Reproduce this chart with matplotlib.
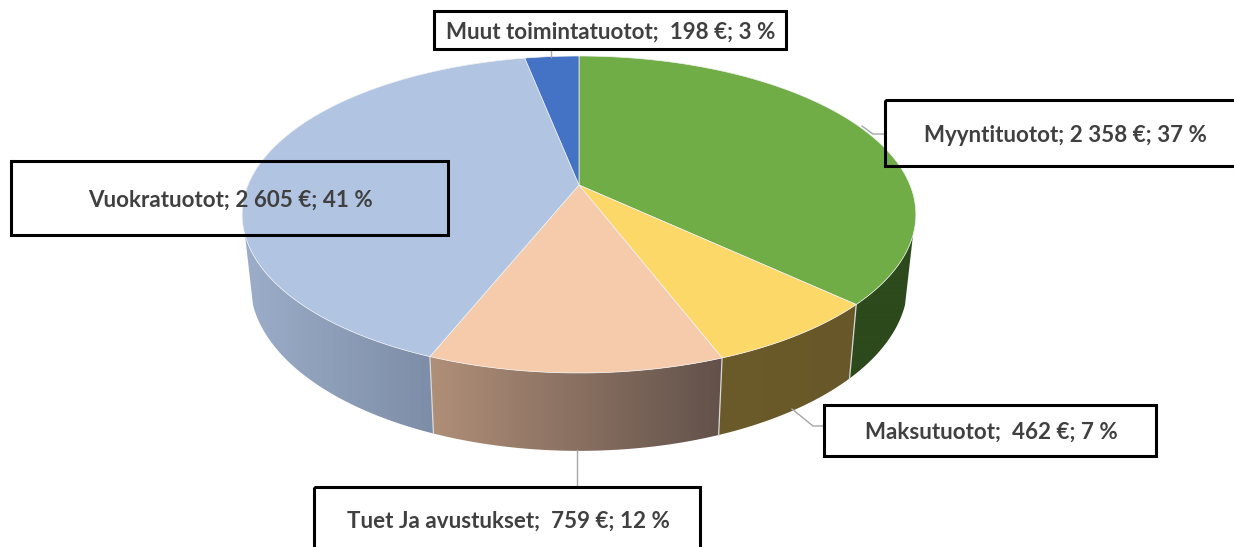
import numpy as np
import matplotlib
matplotlib.use('Agg')
import matplotlib.pyplot as plt
from matplotlib.colors import LinearSegmentedColormap
from matplotlib.patches import Polygon, Rectangle

# Data
categories = ['Myyntituotot', 'Maksutuotot', 'Tuet Ja avustukset', 'Vuokratuotot', 'Muut toimintatuotot']
values = [2358, 462, 759, 2605, 198]
value_texts = ['2 358 €', ' 462 €', ' 759 €', '2 605 €', ' 198 €']
percents = [37, 7, 12, 41, 3]

# Colours
top_colors = ['#70ad47', '#fcd868', '#f5cbac', '#b1c5e3', '#4472c4']
wall_left = ['#2c4a1c', '#6b5b2a', '#b08f78', '#9cadc9', '#4472c4']
wall_right = ['#2c4a1c', '#685829', '#62514a', '#7d8da7', '#4472c4']

# Layout in pixels: box x0, y0, x1, y1 and leader line
boxes = [(885, 100, 1240, 166), (824, 405, 1156, 456), (314, 487, 700, 555),
         (11, 161, 448, 235), (434, 11, 786, 49)]
text_pos = [(1065, 135), (991, 432), (508, 521), (230, 200), (611, 32)]
leaders = [([862, 873, 885], [126, 134, 134]), ([792, 813, 824], [409, 426, 426]),
           ([577, 577], [450, 487]), None, ([551, 551], [49, 57])]

cx, cy = 579, 185
a, b, k = 331, 153, 0.186
wall_from, wall_to = 108.0, 252.0


def top_point(t):
    # perspective view of the unit circle, t in degrees clockwise from the top
    r = np.radians(t)
    u, v = np.sin(r), -np.cos(r)
    d = 1 - k * v
    return cx + a * u / d, cy + b * v / d


def bottom_point(t):
    x, y = top_point(t)
    return cx + (x - cx) * 0.976, cy + (y - cy) * 1.058 + 67


fig = plt.figure(figsize=(12.34, 5.47), dpi=100)
ax = fig.add_axes([0, 0, 1, 1])

edges = np.concatenate([[0], np.cumsum(values)]) / sum(values) * 360
cmaps = [LinearSegmentedColormap.from_list('w', [l, r]) for l, r in zip(wall_left, wall_right)]

# Side walls
for i in range(len(values)):
    t0, t1 = max(edges[i], wall_from), min(edges[i + 1], wall_to)
    if t0 >= t1:
        continue
    ts = np.linspace(t0, t1, 80)
    xt, yt = top_point(ts)
    xb, yb = bottom_point(ts[::-1])
    pts = np.column_stack([np.concatenate([xt, xb]), np.concatenate([yt, yb])])
    im = ax.imshow(np.linspace(0, 1, 256).reshape(1, -1), cmap=cmaps[i], aspect='auto', zorder=1,
                   extent=(pts[:, 0].min(), pts[:, 0].max(), pts[:, 1].max(), pts[:, 1].min()))
    poly = Polygon(pts, closed=True, facecolor='none', edgecolor='none', zorder=2)
    ax.add_patch(poly)
    im.set_clip_path(poly)

# Separators on the wall
for e in edges:
    if wall_from < e < wall_to:
        xt, yt = top_point(e)
        xb, yb = bottom_point(e)
        ax.plot([xt, xb], [yt, yb], color='#d9d9d9', linewidth=0.9, zorder=2)

# Top face
for i in range(len(values)):
    ts = np.linspace(edges[i], edges[i + 1], 150)
    xt, yt = top_point(ts)
    pts = np.column_stack([np.concatenate([[cx], xt]), np.concatenate([[cy], yt])])
    ax.add_patch(Polygon(pts, closed=True, facecolor=top_colors[i], edgecolor='#f2f2f2',
                         linewidth=0.5, zorder=3))

# Leader lines
for line in leaders:
    if line is not None:
        ax.plot(line[0], line[1], color='#a6a6a6', linewidth=1.0, zorder=4)

# Labels
for i, name in enumerate(categories):
    x0, y0, x1, y1 = boxes[i]
    ax.add_patch(Rectangle((x0, y0), x1 - x0, y1 - y0, facecolor='none', edgecolor='black',
                           linewidth=2.2, zorder=5))
    label = f'{name}; {value_texts[i]}; {percents[i]} %'
    ax.text(text_pos[i][0], text_pos[i][1], label, ha='center', va='center', fontsize=16.1,
            fontweight='bold', family='Lato', color='#404040', zorder=6)

ax.set_xlim(0, 1234)
ax.set_ylim(547, 0)
ax.axis('off')
fig.savefig('out.png', dpi=100, facecolor='white')
